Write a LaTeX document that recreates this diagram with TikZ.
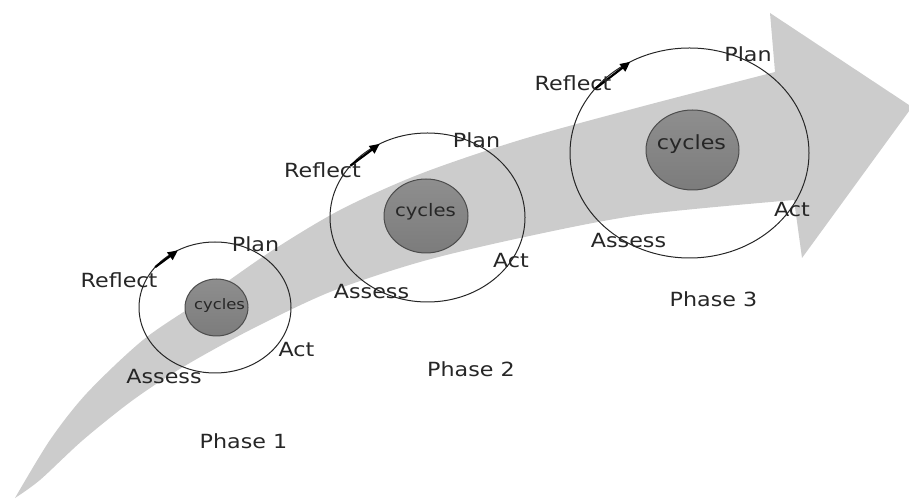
\documentclass[tikz,border=0pt]{standalone}
\usepackage{fontspec}
\usetikzlibrary{shapes.geometric,arrows.meta}
\newfontfamily\labelfont[FakeStretch=1.14]{DejaVu Sans}
\definecolor{band}{HTML}{CCCCCC}
\definecolor{hubtop}{HTML}{8E8E8E}
\definecolor{hubbot}{HTML}{7C7C7C}
\begin{document}
\begin{tikzpicture}[x=1pt,y=1pt,
  ring/.style={ellipse, draw=black!85, line width=1pt, inner sep=0pt, outer sep=0pt},
  hub/.style={ellipse, draw=black!70, line width=1pt, top color=hubtop, bottom color=hubbot, inner sep=0pt, outer sep=0pt},
  lbl/.style={anchor=base, inner sep=0pt, text=black!85, font=\labelfont\fontsize{19.5}{19.5}\selectfont},
  turn/.style={line width=2.2pt, -{Triangle[length=10pt,width=9pt]}}]
\useasboundingbox (0,0) rectangle (909,500);

% sweeping progress arrow
\fill[band] plot[smooth] coordinates {(15,2) (50,60) (87,107) (143,160) (200,199) (270,248) (340,290) (420,326) (520,360) (640,393) (775,428)}
  -- (770,487) -- (912,393) -- (802,242) -- (794,300)
  -- plot[smooth] coordinates {(794,300) (640,285) (520,262) (420,238) (330,208) (250,170) (183,133) (133,100) (83,60) (40,20) (15,2)} -- cycle;

% phase 1
\node[ring, minimum width=152pt, minimum height=131pt] (r1) at (215,192.5) {};
\node[hub, minimum width=63pt, minimum height=57pt] (h1) at (216.5,192.5) {};
\draw[turn] (r1.146) -- (r1.123);
\node[lbl, font=\labelfont\fontsize{14.4}{14.4}\selectfont] (cy1) at (219.5,190) {cycles};
\node[lbl] (pl1) at (255.5,248) {Plan};
\node[lbl] (rf1) at (119,212) {Reflect};
\node[lbl] (ac1) at (296.5,143) {Act};
\node[lbl] (as1) at (164,116) {Assess};
\node[lbl] (ph1) at (243.5,51) {Phase 1};

% phase 2
\node[ring, minimum width=195pt, minimum height=169pt] (r2) at (427.5,282.5) {};
\node[hub, minimum width=84pt, minimum height=74pt] (h2) at (426,284) {};
\draw[turn] (r2.146) -- (r2.123);
\node[lbl, font=\labelfont\fontsize{17.2}{17.2}\selectfont] (cy2) at (425.5,283) {cycles};
\node[lbl] (pl2) at (476.5,352) {Plan};
\node[lbl] (rf2) at (322.5,322) {Reflect};
\node[lbl] (ac2) at (511,232) {Act};
\node[lbl] (as2) at (371.5,201) {Assess};
\node[lbl] (ph2) at (471,123) {Phase 2};

% phase 3
\node[ring, minimum width=239pt, minimum height=210pt] (r3) at (689.5,347) {};
\node[hub, minimum width=93pt, minimum height=80pt] (h3) at (692.5,350) {};
\draw[turn] (r3.146) -- (r3.123);
\node[lbl] (cy3) at (691.5,350) {cycles};
\node[lbl] (pl3) at (748,438) {Plan};
\node[lbl] (rf3) at (573,409) {Reflect};
\node[lbl] (ac3) at (792,283) {Act};
\node[lbl] (as3) at (628.5,252) {Assess};
\node[lbl] (ph3) at (713.5,193) {Phase 3};
\end{tikzpicture}
\end{document}
